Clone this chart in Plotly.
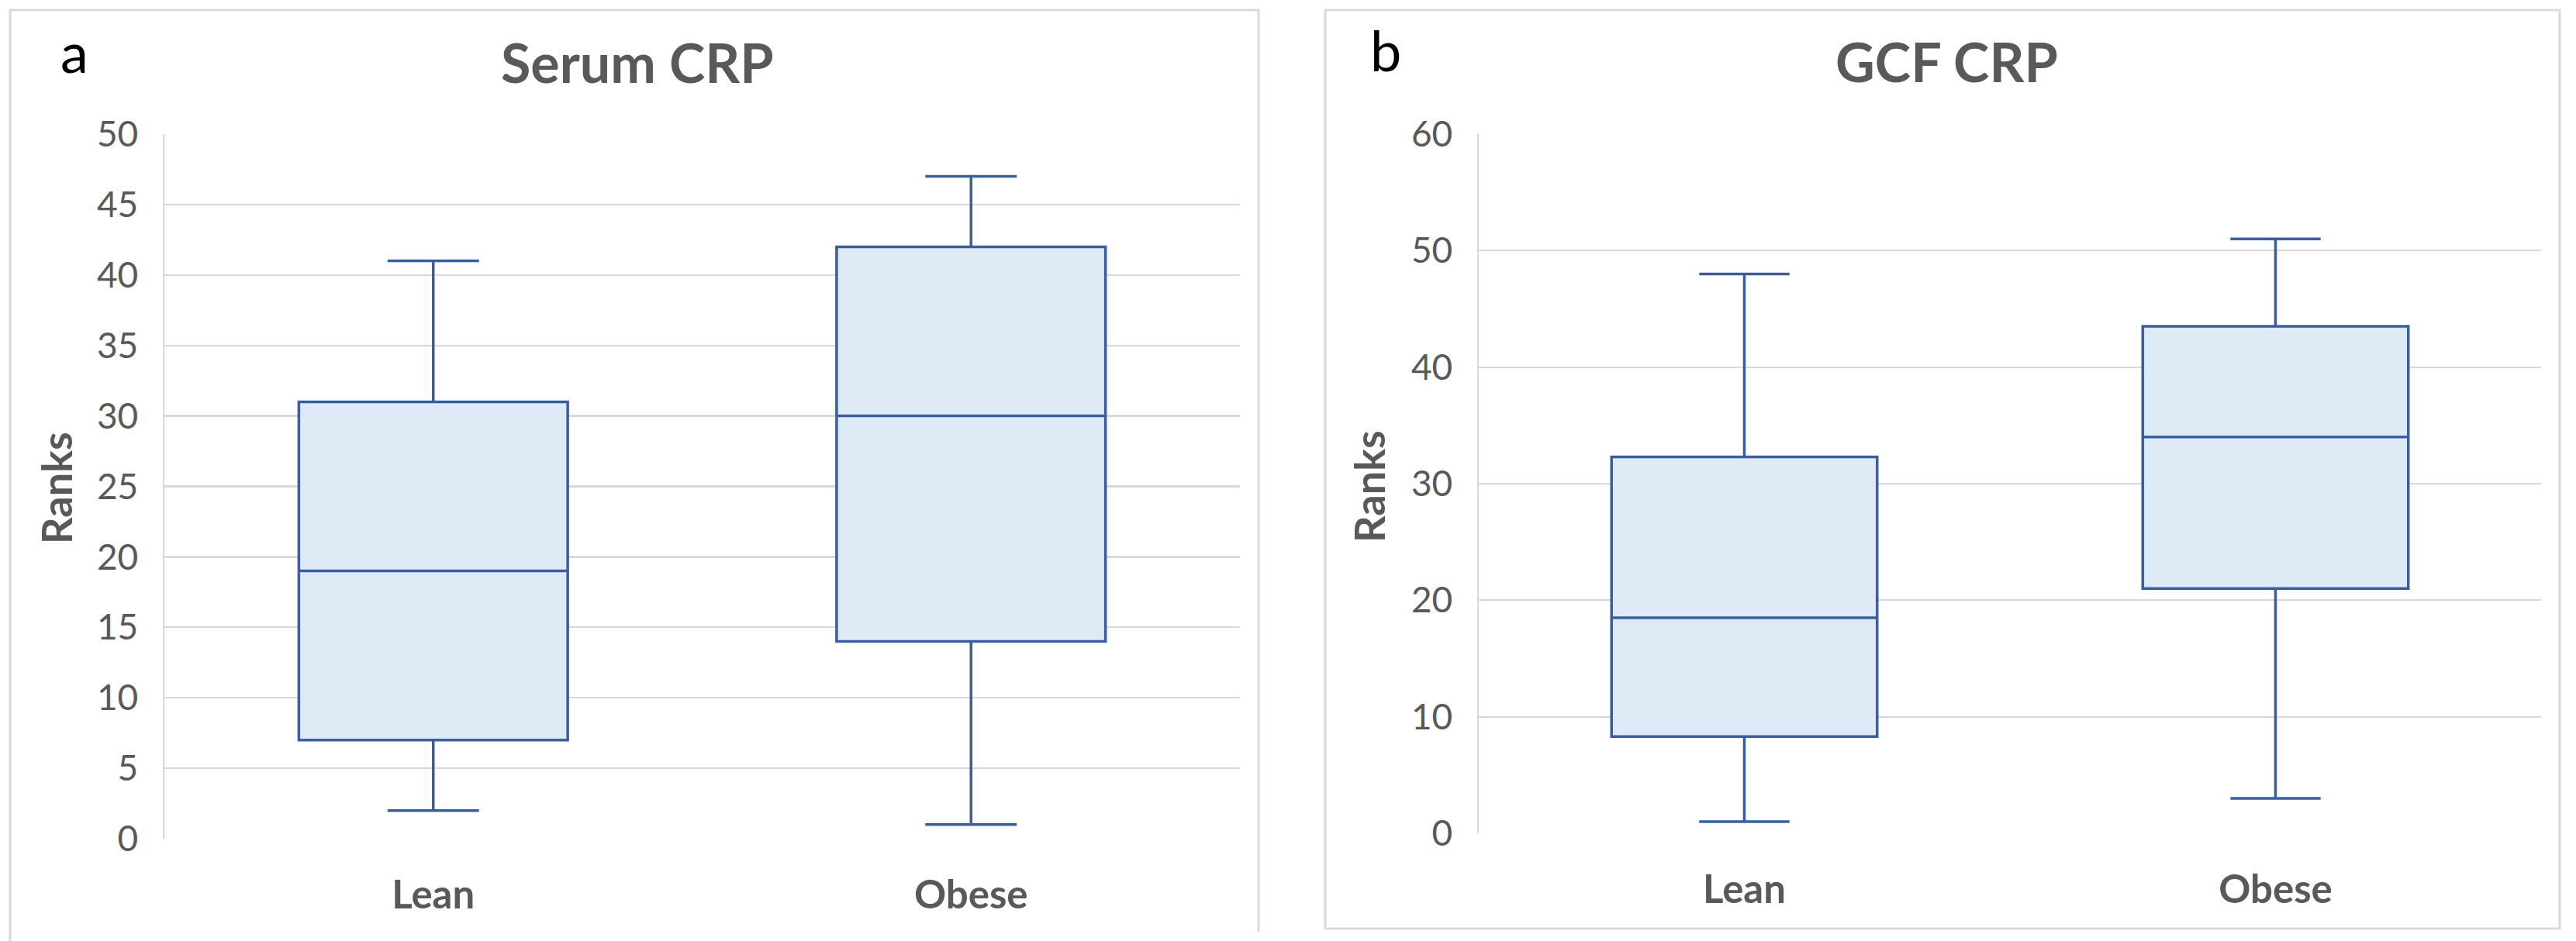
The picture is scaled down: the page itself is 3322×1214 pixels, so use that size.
import plotly.graph_objects as go

W, H = 3322, 1214

# ---- data ----
categories = ["Lean", "Obese"]
serum_min = [2, 1]
serum_q1 = [7, 14]
serum_median = [19, 30]
serum_q3 = [31, 42]
serum_max = [41, 47]

gcf_min = [1, 3]
gcf_q1 = [8.3, 21]
gcf_median = [18.5, 34]
gcf_q3 = [32.3, 43.5]
gcf_max = [48, 51]

serum_ticks = [0, 5, 10, 15, 20, 25, 30, 35, 40, 45, 50]
gcf_ticks = [0, 10, 20, 30, 40, 50, 60]


def px(x):
    return x / W


def py(y):
    return 1 - y / H


LINE = "#3A5DA0"
FILL = "#DEEAF6"
GRID = "#D9D9D9"
TXT = "#595959"
FONT = "Lato"

fig = go.Figure()
fig.add_trace(go.Box(
    x=categories, q1=serum_q1, median=serum_median, q3=serum_q3,
    lowerfence=serum_min, upperfence=serum_max,
    xaxis="x", yaxis="y", width=0.5, whiskerwidth=0.34,
    fillcolor=FILL, line=dict(color=LINE, width=3.5),
    boxpoints=False, hoverinfo="skip", showlegend=False))
fig.add_trace(go.Box(
    x=categories, q1=gcf_q1, median=gcf_median, q3=gcf_q3,
    lowerfence=gcf_min, upperfence=gcf_max,
    xaxis="x2", yaxis="y2", width=0.5, whiskerwidth=0.34,
    fillcolor=FILL, line=dict(color=LINE, width=3.5),
    boxpoints=False, hoverinfo="skip", showlegend=False))

xcommon = dict(type="category", range=[-0.5, 1.5], showgrid=False, showline=False,
               zeroline=False, ticks="", fixedrange=True, automargin=False,
               tickfont=dict(family=FONT, size=51, color=TXT, weight="bold"),
               ticklabelstandoff=38)
ycommon = dict(showgrid=True, gridcolor=GRID, gridwidth=2.2, showline=True,
               linecolor=GRID, linewidth=2.5, zeroline=False, ticks="",
               tickfont=dict(family=FONT, size=46, color=TXT), automargin=False,
               ticklabelstandoff=22, fixedrange=True)

fig.update_layout(
    width=W, height=H,
    margin=dict(l=0, r=0, t=0, b=0),
    paper_bgcolor="white", plot_bgcolor="white",
    showlegend=False,
    xaxis=dict(domain=[px(212), px(1599)], anchor="y", **xcommon),
    yaxis=dict(domain=[py(1082), py(173)], anchor="x", range=[0, 50],
               tickvals=serum_ticks, **ycommon),
    xaxis2=dict(domain=[px(1907), px(3277)], anchor="y2", **xcommon),
    yaxis2=dict(domain=[py(1075), py(173)], anchor="x2", range=[0, 60],
                tickvals=gcf_ticks, **ycommon),
)

annotations = [
    dict(text="Serum CRP", x=px(822), y=py(80), font=dict(family=FONT, size=70, color=TXT, weight="bold"),
         xanchor="center", yanchor="middle"),
    dict(text="GCF CRP", x=px(2510), y=py(79), font=dict(family=FONT, size=70, color=TXT, weight="bold"),
         xanchor="center", yanchor="middle"),
    dict(text="a", x=px(76), y=py(66), font=dict(family=FONT, size=72, color="black"),
         xanchor="left", yanchor="middle"),
    dict(text="b", x=px(1765), y=py(64), font=dict(family=FONT, size=72, color="black"),
         xanchor="left", yanchor="middle"),
    dict(text="Ranks", x=px(72), y=py(630), textangle=-90,
         font=dict(family=FONT, size=54, color=TXT, weight="bold"),
         xanchor="center", yanchor="middle"),
    dict(text="Ranks", x=px(1765), y=py(627), textangle=-90,
         font=dict(family=FONT, size=54, color=TXT, weight="bold"),
         xanchor="center", yanchor="middle"),
]
for a in annotations:
    a.update(xref="paper", yref="paper", showarrow=False)
fig.update_layout(annotations=annotations)

shapes = [
    dict(type="path",
         path=f"M {px(13)},{py(1214)} L {px(13)},{py(13)} L {px(1623)},{py(13)} L {px(1623)},{py(1202)}",
         line=dict(color=GRID, width=3)),
    dict(type="rect", x0=px(1709), x1=px(3301), y0=py(1198), y1=py(13),
         line=dict(color=GRID, width=3)),
]
for s in shapes:
    s.update(xref="paper", yref="paper", layer="below")
fig.update_layout(shapes=shapes)

fig.write_html("out.html", config={"displayModeBar": False, "staticPlot": True},
               post_script="document.body.style.margin='0px';")
